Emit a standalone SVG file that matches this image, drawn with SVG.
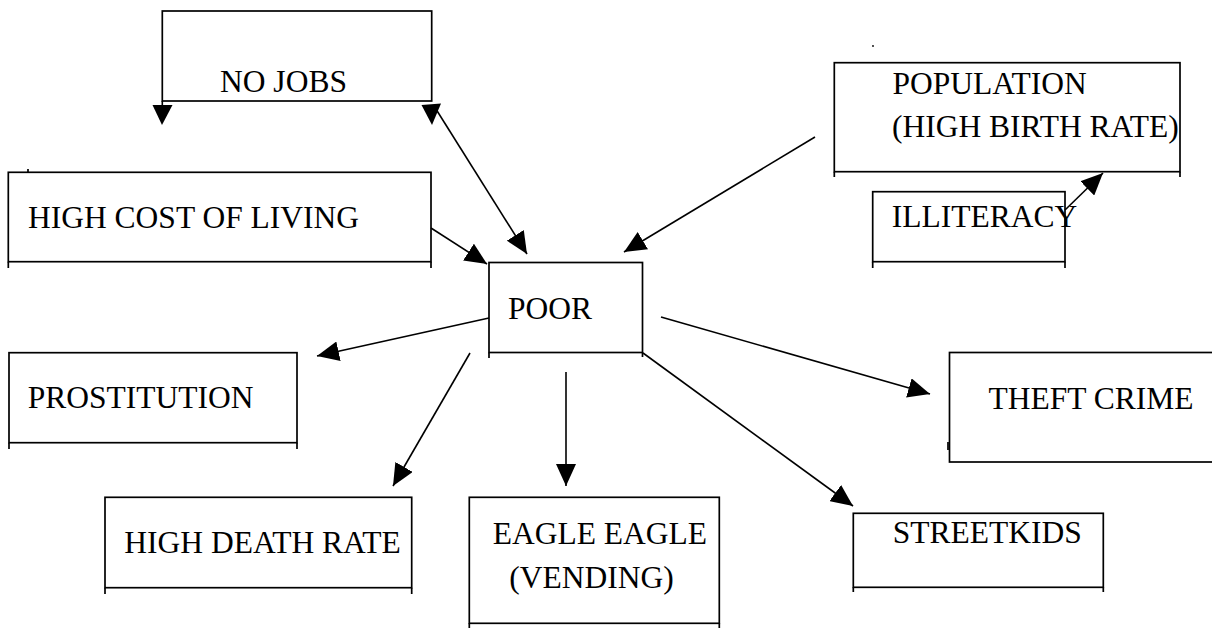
<svg xmlns="http://www.w3.org/2000/svg" width="1212" height="628" viewBox="0 0 1212 628">
<style>
.box{fill:none;stroke:#000;stroke-width:1.7}
.tick{fill:none;stroke:#000;stroke-width:1.7}
.lbl{font-family:"Liberation Serif","Times New Roman",serif;font-size:31.5px;fill:#000}
.con{fill:none;stroke:#000;stroke-width:1.6}
</style>
<defs>
<marker id="ah" markerUnits="userSpaceOnUse" markerWidth="24" markerHeight="20" refX="22" refY="10" orient="auto" viewBox="0 0 24 20">
<path d="M0,0 L22,10 L0,20 z" fill="#000"/>
</marker>
</defs>
<rect width="1212" height="628" fill="#fff"/>

<g id="connectors">
<line class="con" x1="434" y1="106" x2="527" y2="254" marker-end="url(#ah)"/>
<polygon points="421.5,105 441,103.5 432,125" fill="#000"/>
<polygon points="152.5,105 172.5,105 162,125" fill="#000"/>
<line class="con" x1="162.3" y1="101" x2="162.3" y2="106"/>
<line class="con" x1="431" y1="228" x2="487" y2="264" marker-end="url(#ah)"/>
<line class="con" x1="815" y1="137" x2="624" y2="252" marker-end="url(#ah)"/>
<line class="con" x1="1065" y1="210" x2="1103" y2="173" marker-end="url(#ah)"/>
<line class="con" x1="489" y1="318" x2="317" y2="356" marker-end="url(#ah)"/>
<line class="con" x1="470" y1="353" x2="393" y2="486" marker-end="url(#ah)"/>
<line class="con" x1="566" y1="372" x2="566" y2="486" marker-end="url(#ah)"/>
<line class="con" x1="661" y1="317" x2="930" y2="394" marker-end="url(#ah)"/>
<line class="con" x1="643" y1="353" x2="853" y2="506" marker-end="url(#ah)"/>
</g>

<g id="no-jobs">
<rect class="box" x="162.3" y="11" width="269.4" height="90"/>
<text class="lbl" x="220" y="92">NO JOBS</text>
</g>

<g id="high-cost-of-living">
<rect class="box" x="8.3" y="172.3" width="422.7" height="89.4"/>
<path class="tick" d="M8.3,261.7 V268 M431,261.7 V268 M28,169 V172"/>
<text class="lbl" x="28" y="228">HIGH COST OF LIVING</text>
</g>

<g id="population">
<circle cx="873" cy="46" r="0.9" fill="#000"/>
<rect class="box" x="834.3" y="62.7" width="345.7" height="109"/>
<path class="tick" d="M834.3,171.7 V177 M1180,171.7 V177"/>
<text class="lbl" x="892.5" y="93.5">POPULATION</text>
<text class="lbl" x="892" y="136.7">(HIGH BIRTH RATE)</text>
</g>

<g id="illiteracy">
<rect class="box" x="872.7" y="191.7" width="192.3" height="70"/>
<path class="tick" d="M872.7,261.7 V268 M1065,261.7 V268"/>
<text class="lbl" x="891.7" y="227">ILLITERACY</text>
</g>

<g id="poor">
<rect class="box" x="489" y="262.5" width="153.5" height="90"/>
<path class="tick" d="M489,352.5 V358 M642.5,352.5 V357"/>
<text class="lbl" x="508" y="319">POOR</text>
</g>

<g id="prostitution">
<rect class="box" x="9" y="352.7" width="288" height="90"/>
<path class="tick" d="M9,442.7 V449 M297,442.7 V449"/>
<text class="lbl" x="27.7" y="408">PROSTITUTION</text>
</g>

<g id="theft-crime">
<rect class="box" x="949.5" y="352.5" width="266" height="109.5"/>
<path class="tick" d="M948,442 V450"/>
<text class="lbl" x="988.5" y="408.5">THEFT CRIME</text>
</g>

<g id="high-death-rate">
<rect class="box" x="105" y="497.3" width="306.7" height="90.4"/>
<path class="tick" d="M105,587.7 V594 M411.7,587.7 V594"/>
<text class="lbl" x="124.3" y="553.3">HIGH DEATH RATE</text>
</g>

<g id="eagle-eagle-vending">
<rect class="box" x="469.3" y="497.3" width="250" height="126"/>
<path class="tick" d="M469.3,623.3 V630 M719.3,623.3 V630"/>
<text class="lbl" x="492.7" y="544">EAGLE EAGLE</text>
<text class="lbl" x="509.3" y="588.3">(VENDING)</text>
</g>

<g id="streetkids">
<rect class="box" x="853.3" y="513.3" width="250" height="74"/>
<path class="tick" d="M853.3,587.3 V592 M1103.3,587.3 V592"/>
<text class="lbl" x="892.7" y="543.3">STREETKIDS</text>
</g>
</svg>
